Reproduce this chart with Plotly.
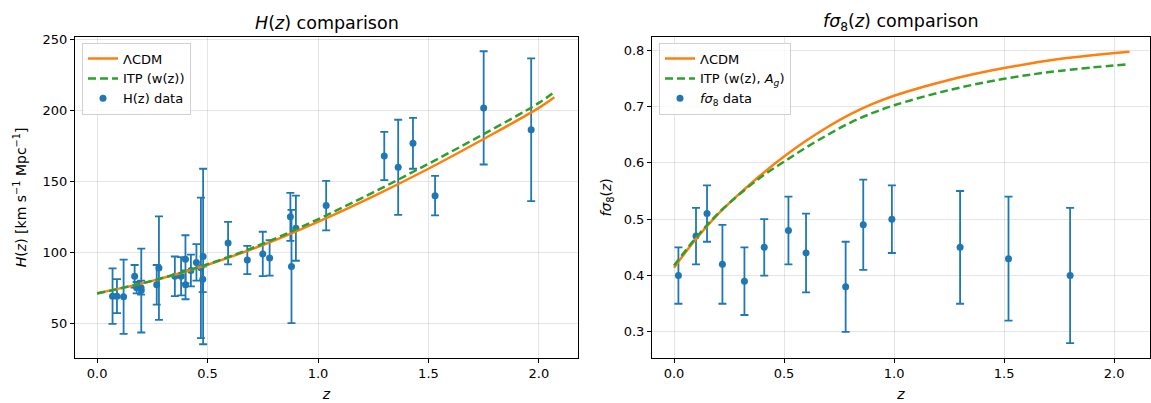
import plotly.graph_objects as go

# ---------------- data ----------------
# H(z) data (cosmic chronometers)
hz_z = [0.07, 0.09, 0.12, 0.17, 0.179, 0.199, 0.2, 0.27, 0.28, 0.352, 0.3802, 0.4, 0.4004,
        0.4247, 0.4497, 0.47, 0.4783, 0.48, 0.593, 0.68, 0.75, 0.781, 0.875, 0.88, 0.9,
        1.037, 1.3, 1.363, 1.43, 1.53, 1.75, 1.965]
hz_H = [69, 69, 68.6, 83, 75, 75, 72.9, 77, 88.8, 83, 83, 95, 77,
        87.1, 92.8, 89, 80.9, 97, 106.5, 94.5, 98.8, 96, 125, 90, 117,
        133, 168, 160, 177, 140, 202, 186.5]
hz_err = [19.6, 12, 26.2, 8, 4, 5, 29.6, 14, 36.6, 14, 13.5, 17, 10.2,
          11.2, 12.9, 49.6, 9, 62, 15, 10, 15.7, 12.5, 17, 40, 23,
          17.5, 17, 33.6, 18, 14, 40, 50.4]

# model curves for H(z)
hm_z = [0.0, 0.25, 0.5, 0.75, 1.0, 1.25, 1.5, 1.75, 2.0, 2.07]
hm_lcdm = [71.0, 79.8, 91.2, 105.1, 121.5, 139.5, 159.0, 180.0, 202.0, 209.5]
hm_itp = [70.8, 79.9, 91.5, 106.0, 123.3, 142.3, 162.5, 183.5, 205.5, 213.3]

# f sigma8 data
fs_z = [0.02, 0.10, 0.15, 0.22, 0.32, 0.41, 0.52, 0.60, 0.78, 0.86, 0.99, 1.30, 1.52, 1.80]
fs_v = [0.40, 0.47, 0.51, 0.42, 0.39, 0.45, 0.48, 0.44, 0.38, 0.49, 0.50, 0.45, 0.43, 0.40]
fs_err = [0.05, 0.05, 0.05, 0.07, 0.06, 0.05, 0.06, 0.07, 0.08, 0.08, 0.06, 0.10, 0.11, 0.12]

# model curves for f sigma8
fm_z = [0.0, 0.1, 0.2, 0.3, 0.4, 0.5, 0.6, 0.7, 0.8, 0.9, 1.0, 1.25, 1.5, 1.75, 2.07]
fm_lcdm = [0.414, 0.465, 0.509, 0.546, 0.580, 0.611, 0.639, 0.664, 0.686, 0.704, 0.719,
           0.747, 0.768, 0.784, 0.797]
fm_itp = [0.418, 0.467, 0.510, 0.545, 0.576, 0.602, 0.627, 0.650, 0.671, 0.688, 0.702,
          0.729, 0.749, 0.763, 0.775]

# ---------------- style ----------------
BLUE = "#1f77b4"
ORANGE = "#ff7f0e"
GREEN = "#2ca02c"
FONT = "DejaVu Sans"
W, H = 1151, 403

fig = go.Figure()

err_style = dict(type="data", thickness=1.8, width=4, color=BLUE)

# left panel
fig.add_trace(go.Scatter(x=hz_z, y=hz_H, mode="markers", name="H(z) data",
                         marker=dict(color=BLUE, size=7),
                         error_y=dict(array=hz_err, **err_style),
                         xaxis="x", yaxis="y", legend="legend", legendrank=3))
fig.add_trace(go.Scatter(x=hm_z, y=hm_lcdm, mode="lines", name="ΛCDM",
                         line=dict(color=ORANGE, width=2.5, shape="spline"),
                         xaxis="x", yaxis="y", legend="legend", legendrank=1))
fig.add_trace(go.Scatter(x=hm_z, y=hm_itp, mode="lines", name="ITP (w(z))",
                         line=dict(color=GREEN, width=2.5, dash="8px,4px", shape="spline"),
                         xaxis="x", yaxis="y", legend="legend", legendrank=2))

# right panel
fig.add_trace(go.Scatter(x=fs_z, y=fs_v, mode="markers", name="<i>fσ</i><sub>8</sub> data",
                         marker=dict(color=BLUE, size=7),
                         error_y=dict(array=fs_err, **err_style),
                         xaxis="x2", yaxis="y2", legend="legend2", legendrank=3))
fig.add_trace(go.Scatter(x=fm_z, y=fm_lcdm, mode="lines", name="ΛCDM",
                         line=dict(color=ORANGE, width=2.5, shape="spline"),
                         xaxis="x2", yaxis="y2", legend="legend2", legendrank=1))
fig.add_trace(go.Scatter(x=fm_z, y=fm_itp, mode="lines", name="ITP (w(z), <i>A<sub>g</sub></i>)",
                         line=dict(color=GREEN, width=2.5, dash="8px,4px", shape="spline"),
                         xaxis="x2", yaxis="y2", legend="legend2", legendrank=2))

ax_common = dict(showline=True, linecolor="black", linewidth=1, mirror=True,
                 ticks="outside", ticklen=4, tickwidth=1, tickcolor="black",
                 showgrid=True, gridcolor="rgba(0,0,0,0.1)", gridwidth=1,
                 zeroline=False, tickfont=dict(size=13, color="black", family=FONT),
                 title_font=dict(size=14, color="black", family=FONT))

yt = 1 - 32.5 / H
yb = 1 - 357 / H

fig.update_layout(
    width=W, height=H,
    margin=dict(l=0, r=0, t=0, b=0),
    paper_bgcolor="white", plot_bgcolor="white",
    font=dict(family=FONT, size=13, color="black"),
    xaxis=dict(domain=[75 / W, 578 / W], anchor="y", range=[-0.1, 2.177],
               tickvals=[0, 0.5, 1.0, 1.5, 2.0], tickformat=".1f",
               title=dict(text="<i>z</i>", standoff=9), **ax_common),
    yaxis=dict(domain=[yb, yt], anchor="x", range=[25.6, 252],
               tickvals=[50, 100, 150, 200, 250],
               title=dict(text="<i>H</i>(<i>z</i>) [km s<sup>−1</sup> Mpc<sup>−1</sup>]", standoff=12),
               **ax_common),
    xaxis2=dict(domain=[652 / W, 1150 / W], anchor="y2", range=[-0.1, 2.163],
                tickvals=[0, 0.5, 1.0, 1.5, 2.0], tickformat=".1f",
                title=dict(text="<i>z</i>", standoff=9), **ax_common),
    yaxis2=dict(domain=[yb, yt], anchor="x2", range=[0.2545, 0.823],
                tickvals=[0.3, 0.4, 0.5, 0.6, 0.7, 0.8], tickformat=".1f",
                title=dict(text="<i>fσ</i><sub>8</sub>(<i>z</i>)", standoff=8),
                **ax_common),
    legend=dict(x=82 / W, y=1 - 38 / H, xanchor="left", yanchor="top",
                bgcolor="rgba(255,255,255,0.8)", bordercolor="#d0d0d0", borderwidth=1,
                font=dict(size=13, family=FONT), tracegroupgap=0, itemwidth=30),
    legend2=dict(x=659 / W, y=1 - 38 / H, xanchor="left", yanchor="top",
                 bgcolor="rgba(255,255,255,0.8)", bordercolor="#d0d0d0", borderwidth=1,
                 font=dict(size=13, family=FONT), tracegroupgap=0, itemwidth=30),
    showlegend=True,
    annotations=[
        dict(text="<i>H</i>(<i>z</i>) comparison", x=(75 + 578) / 2 / W, y=1 - 18 / H,
             xref="paper", yref="paper", xanchor="center", yanchor="middle",
             showarrow=False, font=dict(size=17.5, family=FONT, color="black")),
        dict(text="<i>fσ</i><sub>8</sub>(<i>z</i>) comparison", x=(652 + 1150) / 2 / W, y=1 - 18 / H,
             xref="paper", yref="paper", xanchor="center", yanchor="middle",
             showarrow=False, font=dict(size=17.5, family=FONT, color="black")),
    ],
)

fig.write_html("out.html")
